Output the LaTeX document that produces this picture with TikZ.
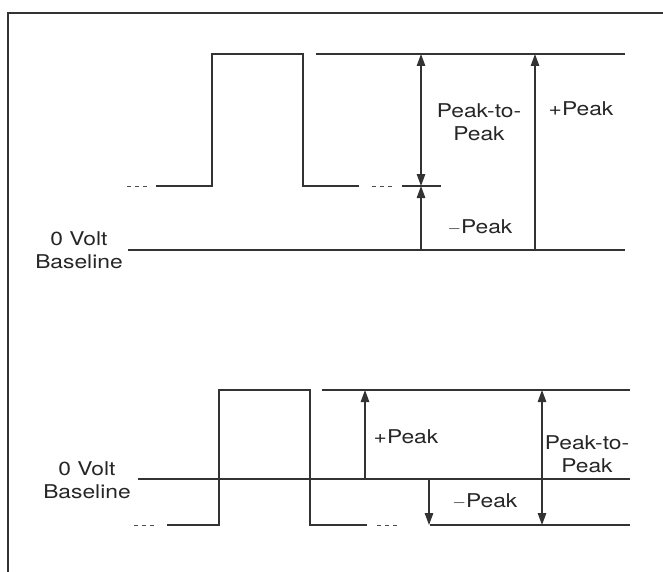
\documentclass[tikz,border=0pt]{standalone}
\usepackage{fontspec}
\setmainfont{TeX Gyre Heros}[FakeStretch=1.2]
\usetikzlibrary{arrows.meta}
\begin{document}
\begin{tikzpicture}[x=1pt,y=-1pt,
  wave/.style={line width=1.4pt,draw=black!80},
  ref/.style={line width=1.2pt,draw=black!80},
  dots/.style={line width=1pt,draw=black!70,dash pattern=on 4pt off 4pt},
  arr/.style={line width=1.2pt,draw=black!80,-{Triangle[width=8.5pt,length=12pt]}},
  darr/.style={line width=1.2pt,draw=black!80,{Triangle[width=8.5pt,length=12pt]}-{Triangle[width=8.5pt,length=12pt]}},
  lbl/.style={font=\fontsize{19}{23}\selectfont,text=black!85,align=center,inner sep=0pt}]
\useasboundingbox (0,0) rectangle (663,572);
% frame
\draw[line width=1.6pt,black!80] (663,13) -- (8,13) -- (8,572);
% ---------- top panel ----------
\coordinate (a1) at (127,186); \coordinate (a2) at (147,186);
\coordinate (a3) at (156,186); \coordinate (a4) at (212,186);
\coordinate (a5) at (212,54);  \coordinate (a6) at (303,54);
\coordinate (a7) at (303,186); \coordinate (a8) at (359,186);
\coordinate (a9) at (372,186); \coordinate (a10) at (392,186);
\coordinate (a11) at (402,186); \coordinate (a12) at (441,186);
\coordinate (t1) at (316,54); \coordinate (t2) at (625,54);
\coordinate (b1) at (128,250); \coordinate (b2) at (625,250);
\coordinate (p1top) at (421,54); \coordinate (p1mid) at (421,186); \coordinate (p1bot) at (421,250);
\coordinate (q1top) at (535,54); \coordinate (q1bot) at (535,250);
\draw[dots] (a1) -- (a2);
\draw[wave] (a3) -- (a4) -- (a5) -- (a6) -- (a7) -- (a8);
\draw[dots] (a9) -- (a10);
\draw[ref] (a11) -- (a12);
\draw[ref] (t1) -- (t2);
\draw[ref] (b1) -- (b2);
\draw[darr] (p1top) -- (p1mid);
\draw[arr] (p1bot) -- (p1mid);
\draw[arr] (q1bot) -- (q1top);
\node[lbl] (ptp1) at (479,122) {Peak-to-\\Peak};
\node[lbl] (pp1) at (581,109) {+Peak};
\node[lbl] (mp1) at (480,227) {$-$Peak};
\node[lbl] (zv1) at (79,250) {0 Volt\\Baseline};
% ---------- bottom panel ----------
\coordinate (c1) at (134,525); \coordinate (c2) at (154,525);
\coordinate (c3) at (167,525); \coordinate (c4) at (219,525);
\coordinate (c5) at (219,390);  \coordinate (c6) at (310,390);
\coordinate (c7) at (310,525); \coordinate (c8) at (367,525);
\coordinate (c9) at (377,525); \coordinate (c10) at (397,525);
\coordinate (c11) at (430,525); \coordinate (c12) at (630,525);
\coordinate (u1) at (322,390); \coordinate (u2) at (630,390);
\coordinate (z1) at (138,479); \coordinate (z2) at (630,479);
\coordinate (r1top) at (365,390); \coordinate (r1bot) at (365,479);
\coordinate (s1top) at (429,479); \coordinate (s1bot) at (429,525);
\coordinate (v1top) at (542,390); \coordinate (v1bot) at (542,525);
\draw[dots] (c1) -- (c2);
\draw[wave] (c3) -- (c4) -- (c5) -- (c6) -- (c7) -- (c8);
\draw[dots] (c9) -- (c10);
\draw[ref] (c11) -- (c12);
\draw[ref] (u1) -- (u2);
\draw[ref] (z1) -- (z2);
\draw[arr] (r1bot) -- (r1top);
\draw[arr] (s1top) -- (s1bot);
\draw[darr] (v1top) -- (v1bot);
\node[lbl] (pp2) at (406,437) {+Peak};
\node[lbl] (mp2) at (485,501) {$-$Peak};
\node[lbl] (ptp2) at (587,454) {Peak-to-\\Peak};
\node[lbl] (zv2) at (87,480) {0 Volt\\Baseline};
\end{tikzpicture}
\end{document}
